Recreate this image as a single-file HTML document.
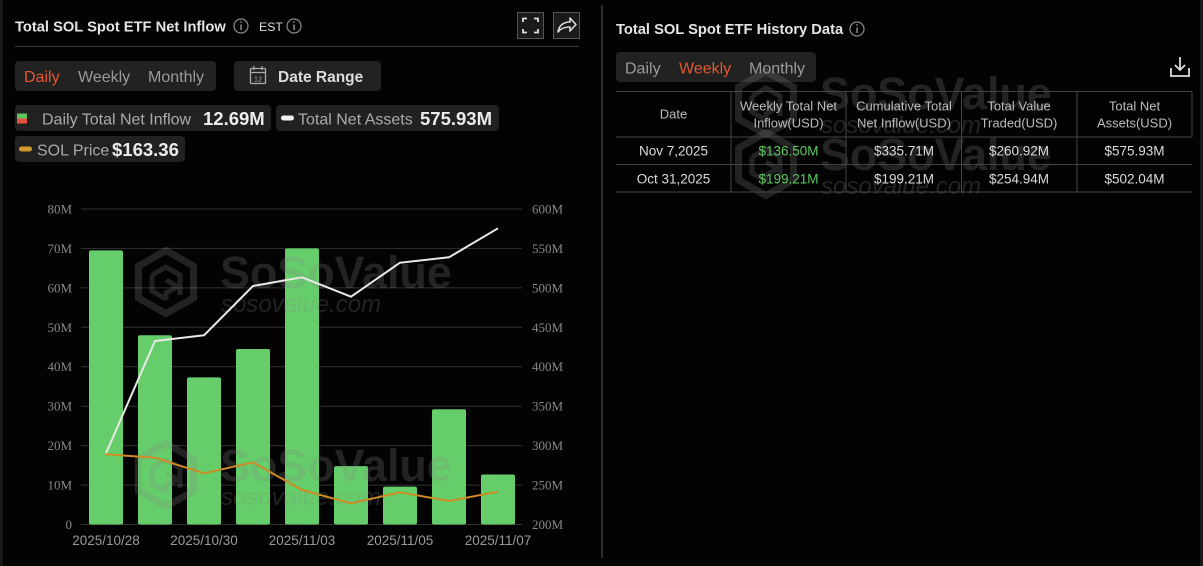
<!DOCTYPE html>
<html><head><meta charset="utf-8">
<style>
html,body{margin:0;padding:0;background:#000;}
body{width:1203px;height:566px;overflow:hidden;position:relative;font-family:"Liberation Sans",sans-serif;}
svg{position:absolute;left:0;top:0;}
</style></head><body>
<svg width="1203" height="566" viewBox="0 0 1203 566" xmlns="http://www.w3.org/2000/svg" font-family="'Liberation Sans', sans-serif">
<rect width="1203" height="566" fill="#030303"/>
<rect x="0" y="0" width="3" height="566" fill="#181818"/>
<rect x="1200" y="0" width="3" height="566" fill="#181818"/>
<line x1="602" y1="5" x2="602" y2="558" stroke="#3c3c3c" stroke-width="1.5"/>

<!-- LEFT HEADER -->
<text x="15" y="31.5" font-size="14.7" font-weight="bold" fill="#e4e4e4">Total SOL Spot ETF Net Inflow</text>
<g stroke="#8a8a8a" stroke-width="1.2" fill="none"><circle cx="241" cy="26" r="7"/><circle cx="294" cy="26" r="7"/></g>
<g fill="#8a8a8a"><rect x="240.3" y="24.5" width="1.5" height="5.5"/><circle cx="241" cy="22" r="0.9"/><rect x="293.3" y="24.5" width="1.5" height="5.5"/><circle cx="294" cy="22" r="0.9"/></g>
<text x="259" y="31" font-size="12.3" fill="#dedede">EST</text>
<line x1="15" y1="46.5" x2="579" y2="46.5" stroke="#3a3a3a" stroke-width="1"/>
<rect x="517.5" y="12.5" width="26" height="26" fill="#1a1a1a" stroke="#555" stroke-width="1"/>
<g stroke="#ddd" stroke-width="1.8" fill="none">
<polyline points="523,22 523,18.5 527,18.5"/><polyline points="534,18.5 538,18.5 538,22"/>
<polyline points="523,29 523,32.5 527,32.5"/><polyline points="534,32.5 538,32.5 538,29"/>
</g>
<rect x="553.5" y="12.5" width="26" height="26" fill="#1a1a1a" stroke="#555" stroke-width="1"/>
<path d="M558 32 C559 25 564 22 570 22 L570 18 L576 24.5 L570 31 L570 27 C565 27 561 28 558 32 Z" fill="none" stroke="#ddd" stroke-width="1.6" stroke-linejoin="round"/>

<!-- left tabs -->
<rect x="15" y="61" width="201" height="30" rx="4" fill="#222"/>
<text x="24" y="82" font-size="16" fill="#e2582f">Daily</text>
<text x="78" y="82" font-size="16" fill="#9a9a9a">Weekly</text>
<text x="148" y="82" font-size="16" fill="#9a9a9a">Monthly</text>
<rect x="234" y="61" width="147" height="30" rx="4" fill="#222"/>
<g stroke="#aaa" stroke-width="1.3" fill="none">
<rect x="250.5" y="68.5" width="15" height="15" rx="1"/>
<line x1="250.5" y1="72.5" x2="265.5" y2="72.5"/>
<line x1="254" y1="66" x2="254" y2="70"/><line x1="262" y1="66" x2="262" y2="70"/>
</g>
<text x="258" y="81.5" font-size="7.5" fill="#aaa" text-anchor="middle">12</text>
<text x="278" y="82" font-size="15.5" font-weight="bold" fill="#dcdcdc">Date Range</text>

<!-- legend pills -->
<rect x="15" y="105" width="256" height="26" rx="4" fill="#212121"/>
<rect x="17" y="113.5" width="10" height="5" fill="#5fc45f"/>
<rect x="17" y="118.5" width="10" height="5" fill="#e0533d"/>
<text x="42" y="124.3" font-size="16" fill="#aaa">Daily Total Net Inflow</text>
<text x="203" y="125" font-size="18.5" font-weight="bold" fill="#ececec">12.69M</text>

<rect x="276" y="105" width="223" height="26" rx="4" fill="#212121"/>
<rect x="281" y="115.5" width="13" height="5" rx="2.5" fill="#eee"/>
<text x="298" y="124.3" font-size="16" fill="#aaa">Total Net Assets</text>
<text x="420" y="125" font-size="18.5" font-weight="bold" fill="#ececec">575.93M</text>

<rect x="15" y="136" width="170" height="26" rx="4" fill="#212121"/>
<rect x="19" y="146.5" width="13" height="5" rx="2.5" fill="#d19a2e"/>
<text x="37" y="155.3" font-size="16" fill="#aaa">SOL Price</text>
<text x="112" y="156" font-size="18.5" font-weight="bold" fill="#ececec">$163.36</text>

<!-- CHART grid -->
<g stroke="#333" stroke-width="1">
<line x1="81" y1="209" x2="522" y2="209"/>
<line x1="81" y1="248.4" x2="522" y2="248.4"/>
<line x1="81" y1="287.9" x2="522" y2="287.9"/>
<line x1="81" y1="327.3" x2="522" y2="327.3"/>
<line x1="81" y1="366.7" x2="522" y2="366.7"/>
<line x1="81" y1="406.2" x2="522" y2="406.2"/>
<line x1="81" y1="445.6" x2="522" y2="445.6"/>
<line x1="81" y1="485.1" x2="522" y2="485.1"/>
<line x1="81" y1="524.5" x2="522" y2="524.5"/>
</g>
<g font-family="'Liberation Serif', serif" font-size="13" fill="#888" text-anchor="end">
<text x="72" y="213.5">80M</text>
<text x="72" y="252.9">70M</text>
<text x="72" y="292.4">60M</text>
<text x="72" y="331.8">50M</text>
<text x="72" y="371.2">40M</text>
<text x="72" y="410.7">30M</text>
<text x="72" y="450.1">20M</text>
<text x="72" y="489.6">10M</text>
<text x="72" y="529">0</text>
</g>
<g font-family="'Liberation Serif', serif" font-size="13" fill="#888">
<text x="532" y="213.5">600M</text>
<text x="532" y="252.9">550M</text>
<text x="532" y="292.4">500M</text>
<text x="532" y="331.8">450M</text>
<text x="532" y="371.2">400M</text>
<text x="532" y="410.7">350M</text>
<text x="532" y="450.1">300M</text>
<text x="532" y="489.6">250M</text>
<text x="532" y="529">200M</text>
</g>
<g fill="#65ce6a">
<rect x="89" y="250.4" width="34" height="274.1" rx="2"/>
<rect x="138" y="335.2" width="34" height="189.3" rx="2"/>
<rect x="187" y="377.4" width="34" height="147.1" rx="2"/>
<rect x="236" y="349" width="34" height="175.5" rx="2"/>
<rect x="285" y="248.4" width="34" height="276.1" rx="2"/>
<rect x="334" y="466.1" width="34" height="58.4" rx="2"/>
<rect x="383" y="486.6" width="34" height="37.9" rx="2"/>
<rect x="432" y="409.3" width="34" height="115.2" rx="2"/>
<rect x="481" y="474.5" width="34" height="50" rx="2"/>
</g>

<!-- watermarks left -->
<g fill="#888" fill-opacity="0.24" stroke="none">
<g transform="translate(135,247)">
<polygon points="31,3.5 58.5,19 58.5,51 31,66.5 3.5,51 3.5,19" fill="none" stroke="#888" stroke-opacity="0.24" stroke-width="7"/>
<path d="M17 28 L31 20 L45 28 L45 38 L31 46 L31 53 M17 28 L17 44 L31 52 M31 33 L45 41 L45 48" fill="none" stroke="#888" stroke-opacity="0.24" stroke-width="5"/>
</g>
<text x="220" y="288" font-size="45" font-weight="bold" letter-spacing="-0.1">SoSoValue</text>
<text x="221" y="312" font-size="24" font-style="italic">sosovalue.com</text>
<g transform="translate(135,440)">
<polygon points="31,3.5 58.5,19 58.5,51 31,66.5 3.5,51 3.5,19" fill="none" stroke="#888" stroke-opacity="0.24" stroke-width="7"/>
<path d="M17 28 L31 20 L45 28 L45 38 L31 46 L31 53 M17 28 L17 44 L31 52 M31 33 L45 41 L45 48" fill="none" stroke="#888" stroke-opacity="0.24" stroke-width="5"/>
</g>
<text x="220" y="481" font-size="45" font-weight="bold" letter-spacing="-0.1">SoSoValue</text>
<text x="221" y="505" font-size="24" font-style="italic">sosovalue.com</text>
</g>

<polyline points="106,453.3 155,341 204,335.3 253,286 302,277.3 351,296.7 400,262.7 449,257.3 498,228.3" fill="none" stroke="#e8e8e8" stroke-width="2" stroke-linejoin="round"/>
<polyline points="106,454.3 155,457.7 204,473.3 253,462.3 302,490 351,503.3 400,492.3 449,501 498,491.7" fill="none" stroke="#d08a26" stroke-width="2" stroke-linejoin="round"/>

<g font-size="13.5" fill="#9a9a9a" text-anchor="middle">
<text x="106" y="545">2025/10/28</text>
<text x="204" y="545">2025/10/30</text>
<text x="302" y="545">2025/11/03</text>
<text x="400" y="545">2025/11/05</text>
<text x="498" y="545">2025/11/07</text>
</g>

<!-- RIGHT PANEL -->
<text x="616" y="34" font-size="14.7" font-weight="bold" fill="#e4e4e4">Total SOL Spot ETF History Data</text>
<circle cx="857" cy="29" r="7" fill="none" stroke="#8a8a8a" stroke-width="1.2"/>
<rect x="856.3" y="27.5" width="1.5" height="5.5" fill="#8a8a8a"/><circle cx="857" cy="25" r="0.9" fill="#8a8a8a"/>
<rect x="616" y="52" width="200" height="30" rx="4" fill="#222"/>
<text x="625" y="73.5" font-size="16" fill="#9a9a9a">Daily</text>
<text x="679" y="73.5" font-size="16" fill="#e2582f">Weekly</text>
<text x="749" y="73.5" font-size="16" fill="#9a9a9a">Monthly</text>
<g stroke="#ddd" stroke-width="1.8" fill="none">
<line x1="1180" y1="57" x2="1180" y2="70"/>
<polyline points="1175,65 1180,70 1185,65"/>
<polyline points="1171,68 1171,76 1189,76 1189,68"/>
</g>

<!-- right watermarks -->
<g fill="#888" fill-opacity="0.24">
<g transform="translate(735,68)">
<polygon points="31,3.5 58.5,19 58.5,51 31,66.5 3.5,51 3.5,19" fill="none" stroke="#888" stroke-opacity="0.24" stroke-width="7"/>
<path d="M17 28 L31 20 L45 28 L45 38 L31 46 L31 53 M17 28 L17 44 L31 52 M31 33 L45 41 L45 48" fill="none" stroke="#888" stroke-opacity="0.24" stroke-width="5"/>
</g>
<text x="820" y="109" font-size="45" font-weight="bold" letter-spacing="-0.1">SoSoValue</text>
<text x="821" y="133" font-size="24" font-style="italic">sosovalue.com</text>
<g transform="translate(735,129)">
<polygon points="31,3.5 58.5,19 58.5,51 31,66.5 3.5,51 3.5,19" fill="none" stroke="#888" stroke-opacity="0.24" stroke-width="7"/>
<path d="M17 28 L31 20 L45 28 L45 38 L31 46 L31 53 M17 28 L17 44 L31 52 M31 33 L45 41 L45 48" fill="none" stroke="#888" stroke-opacity="0.24" stroke-width="5"/>
</g>
<text x="820" y="170" font-size="45" font-weight="bold" letter-spacing="-0.1">SoSoValue</text>
<text x="821" y="194" font-size="24" font-style="italic">sosovalue.com</text>
</g>

<!-- table -->
<g stroke="#444" stroke-width="1">
<line x1="616" y1="91.5" x2="1192" y2="91.5"/>
<line x1="616" y1="137" x2="1192" y2="137"/>
<line x1="616" y1="164.5" x2="1192" y2="164.5"/>
<line x1="616" y1="192" x2="1192" y2="192"/>
<line x1="731" y1="91.5" x2="731" y2="192"/>
<line x1="846" y1="91.5" x2="846" y2="192"/>
<line x1="961.5" y1="91.5" x2="961.5" y2="192"/>
<line x1="1077" y1="91.5" x2="1077" y2="192"/>
<line x1="1192" y1="91.5" x2="1192" y2="137"/>
</g>
<g font-size="13" fill="#bbb" text-anchor="middle">
<text x="673.5" y="118.5">Date</text>
<text x="788.5" y="110.5">Weekly Total Net</text>
<text x="788.5" y="127.5">Inflow(USD)</text>
<text x="904" y="110.5">Cumulative Total</text>
<text x="904" y="127.5">Net Inflow(USD)</text>
<text x="1019" y="110.5">Total Value</text>
<text x="1019" y="127.5">Traded(USD)</text>
<text x="1134.5" y="110.5">Total Net</text>
<text x="1134.5" y="127.5">Assets(USD)</text>
</g>
<g font-size="13.5" fill="#dcdcdc" text-anchor="middle">
<text x="673.5" y="155.5">Nov 7,2025</text>
<text x="788.5" y="155.5" fill="#5ec95e">$136.50M</text>
<text x="904" y="155.5">$335.71M</text>
<text x="1019" y="155.5">$260.92M</text>
<text x="1134.5" y="155.5">$575.93M</text>
<text x="673.5" y="183.5">Oct 31,2025</text>
<text x="788.5" y="183.5" fill="#5ec95e">$199.21M</text>
<text x="904" y="183.5">$199.21M</text>
<text x="1019" y="183.5">$254.94M</text>
<text x="1134.5" y="183.5">$502.04M</text>
</g>
</svg>
</body></html>
